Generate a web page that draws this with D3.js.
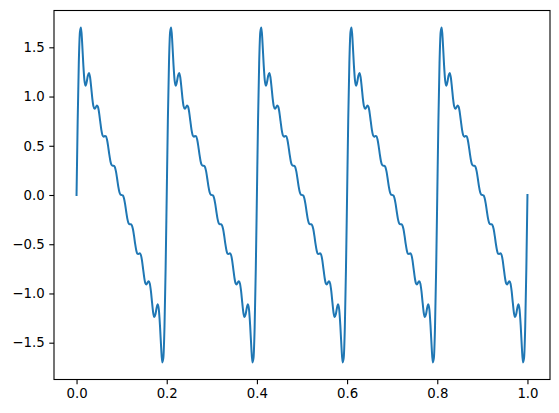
<!DOCTYPE html>
<html>
<head>
<meta charset="utf-8">
<script src="https://cdn.jsdelivr.net/npm/d3@7"></script>
<style>
  html, body { margin: 0; padding: 0; background: #fff; }
  svg { display: block; }
  .tick text { font-family: "DejaVu Sans", sans-serif; font-size: 13.3px; fill: #000; }
</style>
</head>
<body>
<svg id="chart" width="559" height="413"></svg>
<script>
// Sample spacing along the x axis (t from 0 to 1)
const sampleStep = 0.0025;

// Series values (5 identical periods, then the final point)
const seriesValues = [
  0, 0.755, 1.341, 1.655, 1.700, 1.539, 1.324, 1.163, 1.109, 1.147, 1.212, 1.240, 1.196, 1.094, 0.980, 0.900, 0.875, 0.890, 0.908, 0.894, 0.835, 0.747, 0.661, 0.607, 0.592, 0.598, 0.597, 0.563, 0.497, 0.415, 0.346, 0.307, 0.298, 0.298, 0.283, 0.237, 0.165, 0.088, 0.031, 0.004,
  0, -0.004, -0.031, -0.088, -0.165, -0.237, -0.283, -0.298, -0.298, -0.307, -0.346, -0.415, -0.497, -0.563, -0.597, -0.598, -0.592, -0.607, -0.661, -0.747, -0.835, -0.894, -0.908, -0.890, -0.875, -0.900, -0.980, -1.094, -1.196, -1.240, -1.212, -1.147, -1.109, -1.163, -1.324, -1.539, -1.700, -1.655, -1.341, -0.755,
  0, 0.755, 1.341, 1.655, 1.700, 1.539, 1.324, 1.163, 1.109, 1.147, 1.212, 1.240, 1.196, 1.094, 0.980, 0.900, 0.875, 0.890, 0.908, 0.894, 0.835, 0.747, 0.661, 0.607, 0.592, 0.598, 0.597, 0.563, 0.497, 0.415, 0.346, 0.307, 0.298, 0.298, 0.283, 0.237, 0.165, 0.088, 0.031, 0.004,
  0, -0.004, -0.031, -0.088, -0.165, -0.237, -0.283, -0.298, -0.298, -0.307, -0.346, -0.415, -0.497, -0.563, -0.597, -0.598, -0.592, -0.607, -0.661, -0.747, -0.835, -0.894, -0.908, -0.890, -0.875, -0.900, -0.980, -1.094, -1.196, -1.240, -1.212, -1.147, -1.109, -1.163, -1.324, -1.539, -1.700, -1.655, -1.341, -0.755,
  0, 0.755, 1.341, 1.655, 1.700, 1.539, 1.324, 1.163, 1.109, 1.147, 1.212, 1.240, 1.196, 1.094, 0.980, 0.900, 0.875, 0.890, 0.908, 0.894, 0.835, 0.747, 0.661, 0.607, 0.592, 0.598, 0.597, 0.563, 0.497, 0.415, 0.346, 0.307, 0.298, 0.298, 0.283, 0.237, 0.165, 0.088, 0.031, 0.004,
  0, -0.004, -0.031, -0.088, -0.165, -0.237, -0.283, -0.298, -0.298, -0.307, -0.346, -0.415, -0.497, -0.563, -0.597, -0.598, -0.592, -0.607, -0.661, -0.747, -0.835, -0.894, -0.908, -0.890, -0.875, -0.900, -0.980, -1.094, -1.196, -1.240, -1.212, -1.147, -1.109, -1.163, -1.324, -1.539, -1.700, -1.655, -1.341, -0.755,
  0, 0.755, 1.341, 1.655, 1.700, 1.539, 1.324, 1.163, 1.109, 1.147, 1.212, 1.240, 1.196, 1.094, 0.980, 0.900, 0.875, 0.890, 0.908, 0.894, 0.835, 0.747, 0.661, 0.607, 0.592, 0.598, 0.597, 0.563, 0.497, 0.415, 0.346, 0.307, 0.298, 0.298, 0.283, 0.237, 0.165, 0.088, 0.031, 0.004,
  0, -0.004, -0.031, -0.088, -0.165, -0.237, -0.283, -0.298, -0.298, -0.307, -0.346, -0.415, -0.497, -0.563, -0.597, -0.598, -0.592, -0.607, -0.661, -0.747, -0.835, -0.894, -0.908, -0.890, -0.875, -0.900, -0.980, -1.094, -1.196, -1.240, -1.212, -1.147, -1.109, -1.163, -1.324, -1.539, -1.700, -1.655, -1.341, -0.755,
  0, 0.755, 1.341, 1.655, 1.700, 1.539, 1.324, 1.163, 1.109, 1.147, 1.212, 1.240, 1.196, 1.094, 0.980, 0.900, 0.875, 0.890, 0.908, 0.894, 0.835, 0.747, 0.661, 0.607, 0.592, 0.598, 0.597, 0.563, 0.497, 0.415, 0.346, 0.307, 0.298, 0.298, 0.283, 0.237, 0.165, 0.088, 0.031, 0.004,
  0, -0.004, -0.031, -0.088, -0.165, -0.237, -0.283, -0.298, -0.298, -0.307, -0.346, -0.415, -0.497, -0.563, -0.597, -0.598, -0.592, -0.607, -0.661, -0.747, -0.835, -0.894, -0.908, -0.890, -0.875, -0.900, -0.980, -1.094, -1.196, -1.240, -1.212, -1.147, -1.109, -1.163, -1.324, -1.539, -1.700, -1.655, -1.341, -0.755,
  0
];

// Tick values and labels
const xTickValues = [0.0, 0.2, 0.4, 0.6, 0.8, 1.0];
const xTickLabels = ["0.0", "0.2", "0.4", "0.6", "0.8", "1.0"];
const yTickValues = [-1.5, -1.0, -0.5, 0.0, 0.5, 1.0, 1.5];
const yTickLabels = ["\u22121.5", "\u22121.0", "\u22120.5", "0.0", "0.5", "1.0", "1.5"];

const points = seriesValues.map((v, i) => ({ x: i * sampleStep, y: v }));

const svg = d3.select("#chart");
const plot = { left: 54, right: 550, top: 10.5, bottom: 379.5 };

const xMin = 0, xMax = 1;
const yMinData = -1.7035, yMaxData = 1.7035;
const xPad = (xMax - xMin) * 0.05;
const yPad = (yMaxData - yMinData) * 0.05;

const x = d3.scaleLinear().domain([xMin - xPad, xMax + xPad]).range([plot.left, plot.right]);
const y = d3.scaleLinear().domain([yMinData - yPad, yMaxData + yPad]).range([plot.bottom, plot.top]);

// line
const line = d3.line().x(d => x(d.x)).y(d => y(d.y)).curve(d3.curveMonotoneX);
svg.append("path")
  .datum(points)
  .attr("fill", "none")
  .attr("stroke", "#1f77b4")
  .attr("stroke-width", 2)
  .attr("stroke-linejoin", "round")
  .attr("stroke-linecap", "square")
  .attr("d", line);

// axes
const xAxis = d3.axisBottom(x).tickValues(xTickValues)
  .tickFormat((d, i) => xTickLabels[i]).tickSizeInner(4.7).tickSizeOuter(0).tickPadding(4.7);
const yAxis = d3.axisLeft(y).tickValues(yTickValues)
  .tickFormat((d, i) => yTickLabels[i]).tickSizeInner(4.7).tickSizeOuter(0).tickPadding(4.7);

const gx = svg.append("g").attr("transform", `translate(0,${plot.bottom})`).call(xAxis);
const gy = svg.append("g").attr("transform", `translate(${plot.left},0)`).call(yAxis);
[gx, gy].forEach(g => {
  g.select(".domain").remove();
  g.selectAll(".tick line").attr("stroke", "#000").attr("stroke-width", 1.1);
});
gx.selectAll(".tick text").attr("dy", "0.71em");

// spines
svg.append("rect")
  .attr("x", plot.left).attr("y", plot.top)
  .attr("width", plot.right - plot.left).attr("height", plot.bottom - plot.top)
  .attr("fill", "none").attr("stroke", "#000").attr("stroke-width", 1.1);
</script>
</body>
</html>
